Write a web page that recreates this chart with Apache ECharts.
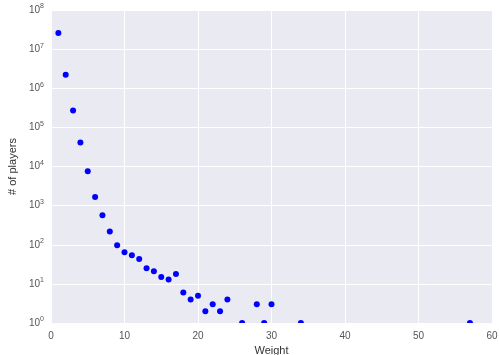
<!DOCTYPE html>
<html>
<head>
<meta charset="utf-8">
<script src="https://cdn.jsdelivr.net/npm/echarts@6/dist/echarts.min.js"></script>
<style>
  html, body { margin: 0; padding: 0; background: #fff; }
  #chart { width: 499px; height: 355px; }
</style>
</head>
<body>
<div id="chart"></div>
<script>
// weight -> number of players
const weights = [1, 2, 3, 4, 5, 6, 7, 8, 9, 10, 11, 12, 13, 14, 15, 16, 17, 18, 19, 20,
                 21, 22, 23, 24, 26, 28, 29, 30, 34, 57];
const players = [26000000, 2200000, 270000, 41000, 7600, 1660, 565, 218, 97, 64, 54, 43, 25, 21, 15, 13, 18, 6, 4, 5,
                 2, 3, 2, 4, 1, 3, 1, 3, 1, 1];

const xTicks = [0, 10, 20, 30, 40, 50, 60];

const chart = echarts.init(document.getElementById('chart'));

const labelColor = '#555';
const font = 'Liberation Sans, Arial, sans-serif';

chart.setOption({
  backgroundColor: '#fff',
  animation: false,
  grid: {
    left: 51, right: 7, top: 10, bottom: 32,
    outerBoundsMode: 'none',
    containLabel: false,
    show: true, backgroundColor: '#eaeaf2', borderWidth: 0
  },
  xAxis: {
    type: 'value',
    min: xTicks[0],
    max: xTicks[xTicks.length - 1],
    interval: 10,
    name: 'Weight',
    nameLocation: 'middle',
    nameGap: 21,
    nameTextStyle: { color: '#333', fontSize: 11, fontFamily: font },
    axisLine: { show: false },
    axisTick: { show: false },
    axisLabel: { color: labelColor, fontSize: 10, fontFamily: font, margin: 8 },
    splitLine: { show: true, lineStyle: { color: '#fff', width: 1 } }
  },
  yAxis: {
    type: 'log',
    logBase: 10,
    min: 1,
    max: 1e8,
    splitNumber: 8,
    name: '# of players',
    nameLocation: 'middle',
    nameGap: 29,
    nameTextStyle: { color: '#333', fontSize: 11, fontFamily: font },
    axisLine: { show: false },
    axisTick: { show: false },
    axisLabel: {
      margin: 7,
      formatter: v => '{b|10}{s|' + Math.round(Math.log10(v)) + '}',
      rich: {
        b: { color: labelColor, fontSize: 10, fontFamily: font },
        s: { color: labelColor, fontSize: 7, fontFamily: font, verticalAlign: 'bottom', padding: [0, 0, 7, 0] }
      }
    },
    splitLine: { show: true, lineStyle: { color: '#fff', width: 1 } }
  },
  series: [{
    type: 'scatter',
    data: weights.map((w, i) => [w, players[i]]),
    symbolSize: 6,
    itemStyle: { color: '#0000ff', opacity: 1 },
    z: 2
  }],
  graphic: [{
    type: 'rect',
    shape: { x: 45, y: 323, width: 454, height: 5 },
    style: { fill: '#fff' },
    z: 100
  }]
});
</script>
</body>
</html>
